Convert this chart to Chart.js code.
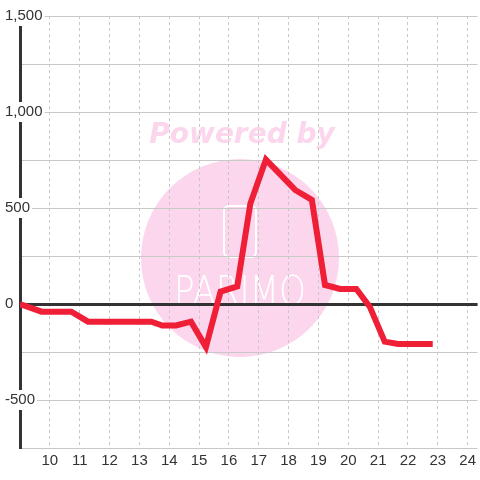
<!DOCTYPE html>
<html>
<head>
<meta charset="utf-8">
<script src="https://cdn.jsdelivr.net/npm/chart.js@4/dist/chart.umd.min.js"></script>
<style>
  html, body { margin: 0; padding: 0; background: #ffffff; }
  #wrap { width: 480px; height: 480px; }
</style>
</head>
<body>
<div id="wrap"><canvas id="c" width="480" height="480"></canvas></div>
<script>
// Time of day (hours) and value series
const hours  = [9, 9.72, 10.72, 11.28, 13.4, 13.77, 14.23, 14.73, 15.23, 15.72, 16.28, 16.72, 17.24, 18.22, 18.78, 19.22, 19.73, 20.27, 20.72, 21.22, 21.67, 22.83];
const values = [0, -40, -40, -92, -92, -112, -112, -92, -224, 64, 92, 524, 752, 594, 542, 99, 78, 78, -14, -196, -208, -208];
const yTickLabels = [-500, 0, 500, 1000, 1500];
const xTickLabels = [10, 11, 12, 13, 14, 15, 16, 17, 18, 19, 20, 21, 22, 23, 24];

const points = hours.map((h, i) => ({ x: h, y: values[i] }));

const watermark = {
  id: 'watermark',
  beforeDraw(chart) {
    const ctx = chart.ctx;
    ctx.save();
    ctx.fillStyle = '#ffffff';
    ctx.fillRect(0, 0, chart.width, chart.height);
    // pink disc
    ctx.fillStyle = '#fcd6ec';
    ctx.beginPath();
    ctx.arc(240, 258, 99, 0, Math.PI * 2);
    ctx.fill();
    // "Powered by"
    ctx.font = 'italic bold 28px "DejaVu Sans"';
    ctx.textAlign = 'center';
    ctx.textBaseline = 'alphabetic';
    ctx.fillText('Powered by', 242, 143, 189);
    // logo outline
    ctx.strokeStyle = '#ffffff';
    ctx.lineWidth = 2;
    ctx.beginPath();
    ctx.roundRect(224, 206, 32, 51, 5);
    ctx.stroke();
    // logo text
    ctx.fillStyle = '#ffffff';
    ctx.font = '200 40px "DejaVu Sans"';
    ctx.textBaseline = 'alphabetic';
    ctx.fillText('PARIMO', 240, 305, 132);
    ctx.restore();
  }
};

new Chart(document.getElementById('c'), {
  type: 'line',
  data: {
    datasets: [{
      data: points,
      borderColor: '#ee1f36',
      borderWidth: 6,
      pointRadius: 0,
      pointHoverRadius: 0,
      tension: 0,
      fill: false
    }]
  },
  options: {
    responsive: false,
    animation: false,
    devicePixelRatio: 1,
    events: [],
    layout: { padding: { top: 16, left: 0, right: 0, bottom: 0 } },
    plugins: { legend: { display: false }, tooltip: { enabled: false } },
    scales: {
      x: {
        type: 'linear',
        min: 9,
        max: 24.333,
        afterFit(s) { s.height = 32; },
        grid: {
          drawTicks: false,
          lineWidth: 1,
          color: (c) => (c.tick && xTickLabels.includes(c.tick.value)) ? '#c8c8c8' : 'rgba(0,0,0,0)'
        },
        border: { display: false, dash: [3, 3] },
        ticks: {
          stepSize: 1,
          includeBounds: false,
          autoSkip: false,
          maxRotation: 0,
          padding: 4,
          color: '#333333',
          font: { family: '"Liberation Sans", Arial, sans-serif', size: 15 },
          callback: (v) => xTickLabels.includes(v) ? String(v) : ''
        }
      },
      y: {
        type: 'linear',
        min: -750,
        max: 1500,
        afterFit(s) { s.width = 20; },
        grid: {
          drawTicks: false,
          color: (c) => (c.tick && c.tick.value === 0) ? '#333333' : '#c8c8c8',
          lineWidth: (c) => (c.tick && c.tick.value === 0) ? 3 : 1
        },
        border: { display: true, color: '#333333', width: 3 },
        ticks: {
          stepSize: 250,
          mirror: true,
          padding: -15,
          crossAlign: 'near',
          color: '#333333',
          font: { family: '"Liberation Sans", Arial, sans-serif', size: 15 },
          showLabelBackdrop: (c) => yTickLabels.includes(c.tick.value),
          backdropColor: '#ffffff',
          backdropPadding: { top: 1, bottom: 1, left: 2, right: 2 },
          callback: (v) => yTickLabels.includes(v) ? v.toLocaleString('en-US') : ''
        }
      }
    }
  },
  plugins: [watermark]
});
</script>
</body>
</html>
